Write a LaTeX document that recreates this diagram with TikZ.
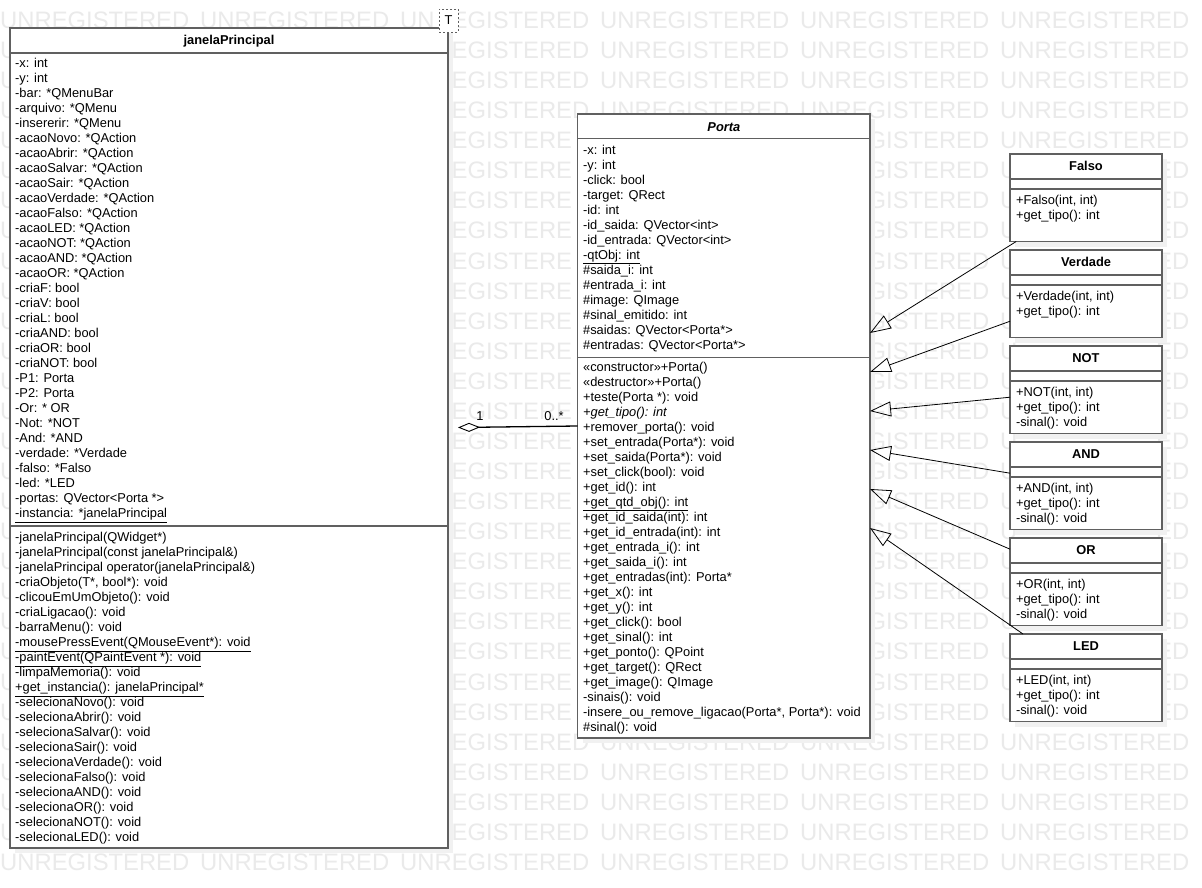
\documentclass[tikz,border=0pt]{standalone}
\usepackage{fontspec}
\setmainfont{Liberation Sans}
\usetikzlibrary{arrows.meta,fit,calc}

\definecolor{boxline}{RGB}{96,96,96}
\definecolor{wmark}{RGB}{234,234,234}
\definecolor{shadowc}{RGB}{241,241,241}

\newcommand{\fsz}{\fontsize{12.85}{15}\selectfont}
\newcommand{\wmfont}{\fontsize{23.8}{24}\selectfont}

\begin{document}
\begin{tikzpicture}[x=1pt,y=-1pt,
  classbox/.style={draw=boxline, line width=1.1pt, fill=white, inner sep=0pt, outer sep=0pt},
  sepline/.style={draw=boxline, line width=1.1pt},
  shade/.style={fill=shadowc},
  mtext/.style={anchor=base west, inner sep=0pt, font=\fsz, text=black},
  htext/.style={anchor=base, inner sep=0pt, font=\fsz\bfseries, text=black},
  wm/.style={anchor=base west, inner sep=0pt, font=\wmfont, text=wmark},
  gen/.style={draw=black, line width=0.8pt, -{Triangle[open, length=21pt, width=15pt]}},
  agg/.style={draw=black, line width=1.3pt, -{Diamond[open, length=22pt, width=9pt, line width=0.9pt]}},
]
\useasboundingbox (0,0) rectangle (1202,888);
\fill[white] (0,0) rectangle (1202,888);

% ---------- watermark (only the parts that show) ----------
\foreach \x/\wt [count=\k] in {0/UNREGISTERED,200/UNREGISTERED,400/UN,451.54/EGISTERED,
    600/UNREGISTERED,800/UNREGISTERED,1000/UNREGISTERED} {
  \node[wm] (wm-0-\k) at (\x,28.5) {\wt};
}
\foreach \r in {1,2,3,24,25,26,27} {
  \foreach \x/\wt [count=\k] in {0/U,451.54/EGISTERED,600/UNREGISTERED,800/UNREGISTERED,1000/UNREGISTERED} {
    \node[wm] (wm-\r-\k) at (\x,{28.5+30.07*\r}) {\wt};
  }
}
\foreach \x/\wt [count=\k] in {0/U,451.54/EGISTERE,867.41/GISTERED,1000/UNREGISTERED} {
  \node[wm] (wm-4-\k) at (\x,{28.5+30.07*4}) {\wt};
}
\foreach \r in {5,...,23} {
  \foreach \x/\wt [count=\k] in {0/U,451.54/EGISTERE,867.41/GISTERED,1000/U,1156.01/ED} {
    \node[wm] (wm-\r-\k) at (\x,{28.5+30.07*\r}) {\wt};
  }
}
\foreach \x [count=\k] in {0,200,400,600,800,1000} {
  \node[wm] (wm-28-\k) at (\x,{28.5+30.07*28}) {UNREGISTERED};
}

% ---------- janelaPrincipal ----------
\fill[shade] (15,33) rectangle (453,853);
\node[classbox, fit={(10,28) (448,848)}] (jp) {};
\draw[sepline] ($(jp.north west)+(0,25)$) -- ($(jp.north east)+(0,25)$);
\draw[sepline] ($(jp.north west)+(0,498)$) -- ($(jp.north east)+(0,498)$);
\node[htext] (jp-h) at (229,44.7) {janelaPrincipal};
\foreach \tx [count=\ii from 0] in {
  {-x: int},{-y: int},{-bar: *QMenuBar},{-arquivo: *QMenu},{-insererir: *QMenu},
  {-acaoNovo: *QAction},{-acaoAbrir: *QAction},{-acaoSalvar: *QAction},{-acaoSair: *QAction},
  {-acaoVerdade: *QAction},{-acaoFalso: *QAction},{-acaoLED: *QAction},{-acaoNOT: *QAction},
  {-acaoAND: *QAction},{-acaoOR: *QAction},{-criaF: bool},{-criaV: bool},{-criaL: bool},
  {-criaAND: bool},{-criaOR: bool},{-criaNOT: bool},{-P1: Porta},{-P2: Porta},{-Or: * OR},
  {-Not: *NOT},{-And: *AND},{-verdade: *Verdade},{-falso: *Falso},{-led: *LED},
  {-portas: QVector<Porta *>},{\underline{-instancia: *janelaPrincipal}}} {
  \node[mtext] (jp-a\ii) at (15,{67.8+15*\ii}) {\tx};
}
\foreach \tx [count=\ii from 0] in {
  {-janelaPrincipal(QWidget*)},{-janelaPrincipal(const janelaPrincipal\&)},
  {-janelaPrincipal operator(janelaPrincipal\&)},{-criaObjeto(T*, bool*): void},
  {-clicouEmUmObjeto(): void},{-criaLigacao(): void},{-barraMenu(): void},
  {\underline{-mousePressEvent(QMouseEvent*): void}},{\underline{-paintEvent(QPaintEvent *): void}},
  {-limpaMemoria(): void},{\underline{+get\_instancia(): janelaPrincipal*}},
  {-selecionaNovo(): void},{-selecionaAbrir(): void},{-selecionaSalvar(): void},
  {-selecionaSair(): void},{-selecionaVerdade(): void},{-selecionaFalso(): void},
  {-selecionaAND(): void},{-selecionaOR(): void},{-selecionaNOT(): void},{-selecionaLED(): void}} {
  \node[mtext] (jp-m\ii) at (15,{541.8+15*\ii}) {\tx};
}
\node[draw=boxline, line width=0.9pt, dash pattern=on 2pt off 2pt, fill=white,
  minimum width=19pt, minimum height=23pt, inner sep=0pt, font=\fsz] (tparam) at (448.5,20.5) {T};

% ---------- Porta ----------
\fill[shade] (582.7,119) rectangle (875,743);
\node[classbox, fit={(577.7,114) (870,738)}] (porta) {};
\draw[sepline] ($(porta.north west)+(0,24.3)$) -- ($(porta.north east)+(0,24.3)$);
\draw[sepline] ($(porta.north west)+(0,243.3)$) -- ($(porta.north east)+(0,243.3)$);
\node[htext, font=\fsz\bfseries\itshape] (porta-h) at (723.9,131.5) {Porta};
\foreach \tx [count=\ii from 0] in {
  {-x: int},{-y: int},{-click: bool},{-target: QRect},{-id: int},
  {-id\_saida: QVector<int>},{-id\_entrada: QVector<int>},{\underline{-qtObj: int}},
  {\#saida\_i: int},{\#entrada\_i: int},{\#image: QImage},{\#sinal\_emitido: int},
  {\#saidas: QVector<Porta*>},{\#entradas: QVector<Porta*>}} {
  \node[mtext] (porta-a\ii) at (582.9,{154.1+15*\ii}) {\tx};
}
\foreach \tx [count=\ii from 0] in {
  {«constructor»+Porta()},{«destructor»+Porta()},{+teste(Porta *): void},
  {\textit{+get\_tipo(): int}},{+remover\_porta(): void},{+set\_entrada(Porta*): void},
  {+set\_saida(Porta*): void},{+set\_click(bool): void},{+get\_id(): int},
  {\underline{+get\_qtd\_obj(): int}},{+get\_id\_saida(int): int},{+get\_id\_entrada(int): int},
  {+get\_entrada\_i(): int},{+get\_saida\_i(): int},{+get\_entradas(int): Porta*},
  {+get\_x(): int},{+get\_y(): int},{+get\_click(): bool},{+get\_sinal(): int},
  {+get\_ponto(): QPoint},{+get\_target(): QRect},{+get\_image(): QImage},
  {-sinais(): void},{-insere\_ou\_remove\_ligacao(Porta*, Porta*): void},{\#sinal(): void}} {
  \node[mtext] (porta-m\ii) at (582.9,{371.5+15*\ii}) {\tx};
}

% ---------- gate classes ----------
\newcommand{\gate}[4]{%
  \fill[shade] (1015,{#2+5}) rectangle (1167,{#2+92.5});
  \node[classbox, fit={(1010,#2) (1162,{#2+87.5})}] (#1) {};
  \draw[sepline] ($(#1.north west)+(0,25)$) -- ($(#1.north east)+(0,25)$);
  \draw[sepline] ($(#1.north west)+(0,35)$) -- ($(#1.north east)+(0,35)$);
  \node[htext] (#1-h) at (1086,{#2+16.8}) {#3};
  \node[mtext] (#1-m1) at (1015.8,{#2+50.8}) {+#3(int, int)};
  \node[mtext] (#1-m2) at (1015.8,{#2+65.8}) {+get\_tipo(): int};
  \ifnum#4=1 \node[mtext] (#1-m3) at (1015.8,{#2+80.8}) {-sinal(): void};\fi
}
\gate{falso}{154}{Falso}{0}
\gate{verdade}{250}{Verdade}{0}
\gate{not}{346}{NOT}{1}
\gate{and}{442}{AND}{1}
\gate{or}{538}{OR}{1}
\gate{led}{634}{LED}{1}

% ---------- generalizations ----------
\coordinate (g1) at ($(porta.east)+(0,-93)$);
\coordinate (g2) at ($(porta.east)+(0,-54)$);
\coordinate (g3) at ($(porta.east)+(0,-15)$);
\coordinate (g4) at ($(porta.east)+(0,24)$);
\coordinate (g5) at ($(porta.east)+(0,63)$);
\coordinate (g6) at ($(porta.east)+(0,102)$);
\draw[gen] (falso) -- (g1);
\draw[gen] (verdade) -- (g2);
\draw[gen] (not) -- (g3);
\draw[gen] (and) -- (g4);
\draw[gen] (or) -- (g5);
\draw[gen] (led) -- (g6);

% ---------- aggregation ----------
\coordinate (aggJ) at (458,427.5);
\draw[agg] (porta.west) -- (aggJ);
\node[mtext, anchor=base] (mult1) at (480,420.5) {1};
\node[mtext, anchor=base] (mult2) at (554,420.5) {0..*};
\end{tikzpicture}
\end{document}
